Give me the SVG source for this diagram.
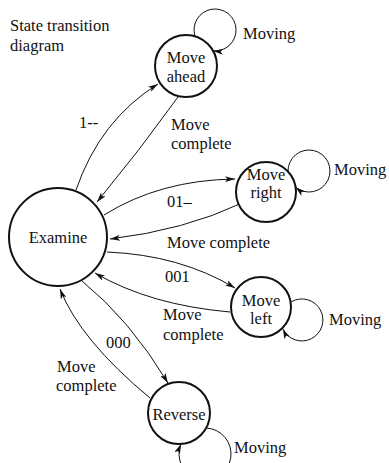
<svg xmlns="http://www.w3.org/2000/svg" width="389" height="463" viewBox="0 0 389 463">
<style>
text{font-family:"Liberation Serif","DejaVu Serif",serif;font-size:16.5px;fill:#111}
.n{fill:#fff;stroke:#111;stroke-width:2}
.c{text-anchor:middle}
.e{fill:none;stroke:#111;stroke-width:1}
</style>
<defs>
<marker id="ah" viewBox="0 0 10 6" refX="10" refY="3" markerWidth="10" markerHeight="6" markerUnits="userSpaceOnUse" orient="auto">
<path d="M0,0 L10,3 L0,6 L2.5,3 Z" fill="#111"/>
</marker>
</defs>
<rect width="389" height="463" fill="#fff"/>
<text x="10" y="31">State transition</text>
<text x="10" y="51">diagram</text>
<g id="connectors">
<path class="e" d="M76,190 Q100,120 158,84" marker-end="url(#ah)"/>
<path class="e" d="M178,97 Q140,150 97,202" marker-end="url(#ah)"/>
<path class="e" d="M104,215 Q160,180 235,179" marker-end="url(#ah)"/>
<path class="e" d="M242,203 Q185,230 110,239" marker-end="url(#ah)"/>
<path class="e" d="M107,252 Q180,255 235,288" marker-end="url(#ah)"/>
<path class="e" d="M230,312 Q150,305 95,273" marker-end="url(#ah)"/>
<path class="e" d="M82,281 Q130,320 168,383" marker-end="url(#ah)"/>
<path class="e" d="M150,398 Q80,340 60,289" marker-end="url(#ah)"/>
<path class="e" d="M195,36.3 A21,21 0 1 1 213.1,50.9" marker-end="url(#ah)"/>
<path class="e" d="M288,171.6 A21,21 0 1 1 295.6,187.2" marker-end="url(#ah)"/>
<path class="e" d="M291.5,301.7 A21,21 0 1 1 282.9,328.9" marker-end="url(#ah)"/>
<path class="e" d="M206.2,428 A26,26 0 1 1 181,444" marker-end="url(#ah)"/>
<text x="79" y="128">1--</text>
<text x="171" y="130">Move</text>
<text x="171" y="149">complete</text>
<text x="167" y="207">01–</text>
<text x="167" y="248">Move complete</text>
<text x="165" y="282">001</text>
<text x="163" y="320">Move</text>
<text x="163" y="340">complete</text>
<text x="106" y="348">000</text>
<text x="57" y="372">Move</text>
<text x="56" y="391">complete</text>
<text x="243" y="39">Moving</text>
<text x="334" y="175">Moving</text>
<text x="329" y="325">Moving</text>
<text x="234" y="453">Moving</text>
</g>
<g id="examine"><circle class="n" cx="58" cy="237" r="49"/><text class="c" x="58" y="243">Examine</text></g>
<g id="move-ahead"><circle class="n" cx="186" cy="66" r="31"/><text class="c" x="186" y="63">Move</text><text class="c" x="186" y="82">ahead</text></g>
<g id="move-right"><circle class="n" cx="266" cy="192" r="30"/><text class="c" x="266" y="180">Move</text><text class="c" x="266" y="198">right</text></g>
<g id="move-left"><circle class="n" cx="261" cy="307" r="30"/><text class="c" x="261" y="306">Move</text><text class="c" x="261" y="324">left</text></g>
<g id="reverse"><circle class="n" cx="179" cy="413" r="31"/><text class="c" x="179" y="420">Reverse</text></g>
</svg>
